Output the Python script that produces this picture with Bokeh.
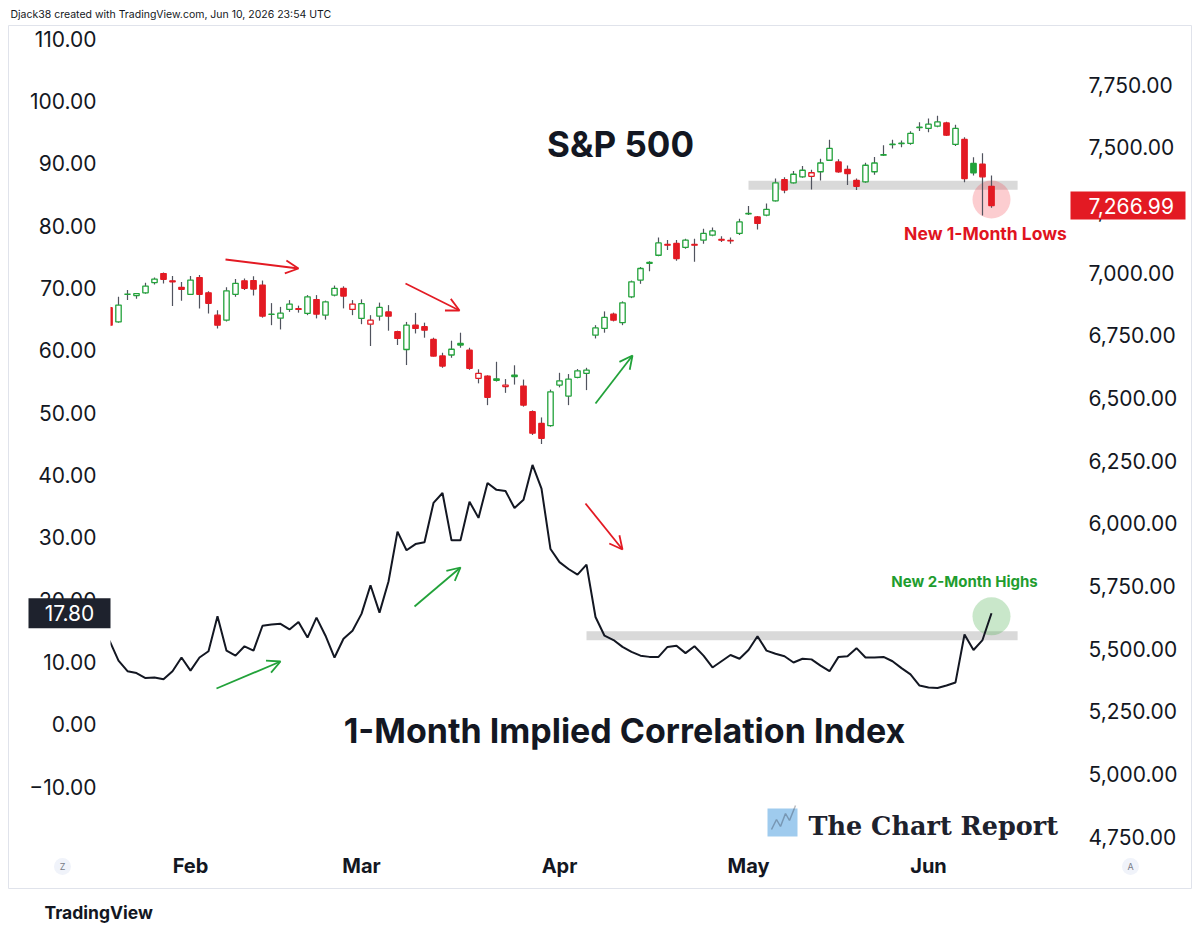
from bokeh.plotting import figure
from bokeh.models import (Range1d, LinearAxis, FixedTicker, Label, Arrow, OpenHead,
                          BoxAnnotation, PolyAnnotation, ColumnDataSource, Title)
from bokeh.embed import file_html
from bokeh.resources import INLINE

# ---------------- data ----------------
dates = (
    ["2026-01-%02d" % d for d in [20, 21, 22, 23, 26, 27, 28, 29, 30]]
    + ["2026-02-%02d" % d for d in [2, 3, 4, 5, 6, 9, 10, 11, 12, 13, 17, 18, 19, 20, 23, 24, 25, 26, 27]]
    + ["2026-03-%02d" % d for d in [2, 3, 4, 5, 6, 9, 10, 11, 12, 13, 16, 17, 18, 19, 20, 23, 24, 25, 26, 27, 30, 31]]
    + ["2026-04-%02d" % d for d in [1, 2, 6, 7, 8, 9, 10, 13, 14, 15, 16, 17, 20, 21, 22, 23, 24, 27, 28, 29, 30]]
    + ["2026-05-%02d" % d for d in [1, 4, 5, 6, 7, 8, 11, 12, 13, 14, 15, 18, 19, 20, 21, 22, 26, 27, 28, 29]]
    + ["2026-06-%02d" % d for d in [1, 2, 3, 4, 5, 8, 9, 10]]
)

spx_open = [6860, 6803, 6913, 6908, 6919, 6960, 6996, 6967, 6941, 6913,
            6980, 6919, 6830, 6810, 6913, 6967, 6968, 6950, 6833, 6818,
            6853, 6853, 6837, 6892, 6830, 6910, 6937, 6853, 6817, 6794,
            6826, 6843, 6764, 6693, 6790, 6784, 6733, 6667, 6671, 6717,
            6690, 6578, 6587, 6576, 6545, 6591, 6547, 6445, 6398, 6389,
            6551, 6507, 6582, 6598, 6750, 6777, 6834, 6800, 6903, 6970,
            7037, 7069, 7112, 7116, 7100, 7112, 7129, 7149, 7132, 7128,
            7156, 7234, 7222, 7229, 7286, 7371, 7358, 7382, 7384, 7402,
            7448, 7441, 7411, 7368, 7362, 7402, 7470, 7510, 7514, 7515,
            7578, 7575, 7584, 7597, 7511, 7531, 7435, 7432, 7344]
spx_high = [6875, 6903, 6930, 6918, 6959, 6980, 7000, 6986, 6962, 6986,
            6990, 6925, 6850, 6941, 6974, 6976, 6985, 6968, 6878, 6863,
            6890, 6868, 6910, 6910, 6888, 6948, 6945, 6890, 6893, 6830,
            6880, 6870, 6768, 6803, 6839, 6800, 6740, 6680, 6728, 6760,
            6700, 6614, 6590, 6644, 6575, 6630, 6573, 6450, 6422, 6533,
            6600, 6595, 6615, 6620, 6790, 6845, 6840, 6885, 6968, 7022,
            7045, 7140, 7130, 7130, 7135, 7135, 7175, 7180, 7145, 7140,
            7215, 7265, 7226, 7275, 7375, 7380, 7405, 7425, 7410, 7454,
            7530, 7452, 7427, 7375, 7438, 7461, 7508, 7530, 7527, 7564,
            7600, 7614, 7625, 7602, 7590, 7540, 7460, 7476, 7387]
spx_low = [6780, 6800, 6890, 6895, 6915, 6952, 6956, 6866, 6887, 6910,
           6857, 6837, 6777, 6805, 6903, 6930, 6908, 6820, 6790, 6773,
           6843, 6840, 6830, 6817, 6812, 6905, 6857, 6830, 6794, 6707,
           6808, 6768, 6711, 6631, 6757, 6740, 6665, 6620, 6660, 6700,
           6612, 6558, 6471, 6565, 6520, 6553, 6465, 6352, 6316, 6385,
           6542, 6471, 6578, 6531, 6737, 6760, 6805, 6790, 6898, 6955,
           7005, 7065, 7090, 7047, 7095, 7043, 7115, 7145, 7122, 7115,
           7150, 7230, 7172, 7225, 7283, 7316, 7355, 7378, 7331, 7367,
           7445, 7398, 7349, 7329, 7358, 7390, 7465, 7495, 7500, 7510,
           7565, 7560, 7580, 7545, 7505, 7360, 7387, 7228, 7258]
spx_close = [6790, 6870, 6914, 6916, 6946, 6974, 6973, 6963, 6933, 6970,
             6913, 6877, 6790, 6927, 6957, 6937, 6934, 6826, 6834, 6838,
             6874, 6856, 6903, 6834, 6883, 6937, 6906, 6874, 6876, 6810,
             6861, 6826, 6737, 6790, 6777, 6770, 6667, 6627, 6694, 6711,
             6618, 6598, 6502, 6570, 6551, 6585, 6471, 6359, 6339, 6524,
             6568, 6575, 6608, 6611, 6779, 6821, 6810, 6879, 6963, 7016,
             7040, 7118, 7109, 7056, 7129, 7109, 7156, 7166, 7129, 7126,
             7202, 7236, 7196, 7252, 7358, 7329, 7392, 7408, 7398, 7437,
             7495, 7402, 7395, 7344, 7428, 7437, 7468, 7512, 7516, 7555,
             7580, 7592, 7601, 7548, 7575, 7375, 7398, 7382, 7266.99]

corr = [13.4, 10.2, 8.5, 8.2, 7.4, 7.5, 7.2, 8.5, 10.7, 8.6,
        10.7, 11.7, 17.3, 11.8, 11.0, 12.5, 11.8, 15.8, 16.0, 16.1,
        15.2, 16.4, 13.9, 17.1, 14.2, 10.7, 13.7, 15.0, 17.7, 22.3,
        17.9, 22.9, 30.9, 27.9, 28.9, 29.2, 35.5, 37.1, 29.5, 29.5,
        35.7, 33.1, 38.7, 37.6, 37.4, 34.7, 36.0, 41.6, 37.8, 28.1,
        26.0, 24.9, 24.0, 25.6, 17.2, 14.2, 13.5, 12.4, 11.6, 11.0,
        10.8, 10.8, 12.4, 12.6, 11.4, 12.5, 11.0, 9.1, 10.1, 11.1,
        10.5, 11.9, 14.1, 11.8, 11.3, 10.9, 9.9, 10.5, 10.4, 9.4,
        8.5, 10.8, 10.9, 12.2, 10.7, 10.7, 10.8, 10.1, 9.0, 8.0,
        6.2, 5.9, 5.8, 6.2, 6.7, 14.4, 11.9, 13.5, 17.8]

left_ticks = [-10, 0, 10, 20, 30, 40, 50, 60, 70, 80, 90, 100, 110]
right_ticks = [4750, 5000, 5250, 5500, 5750, 6000, 6250, 6500, 6750, 7000, 7250, 7500, 7750]
month_names = {"01": "Jan", "02": "Feb", "03": "Mar", "04": "Apr", "05": "May", "06": "Jun"}

spx_support = 7348      # grey horizontal level drawn on the S&P
corr_resistance = 14.2  # grey horizontal level drawn on the correlation index

# ---------------- layout (canvas pixels) ----------------
W, H = 1200, 942
FR_L, FR_R, FR_T, FR_B = 8, 1191, 25, 888       # bordered chart pane
PANE_L, PANE_R = 110, 1070                       # price-scale edges inside the pane
BAR0_X, BAR_DX = 109.0, 9.0
L_ZERO_Y, L_PX = 723.7, 6.233
R_REF_Y, R_REF_V, R_PX = 146.7, 7500.0, 0.25067


def ix(px):
    return (px - BAR0_X) / BAR_DX


def lv(py):
    return (L_ZERO_Y - py) / L_PX


def rv(py):
    return R_REF_V - (py - R_REF_Y) / R_PX


GREEN = "#22a23a"
RED = "#e31a23"
WICK = "#50535e"
INK = "#131722"
FONT = "Inter"

p = figure(width=W, height=H,
           x_range=Range1d(ix(FR_L), ix(FR_R)),
           y_range=Range1d(lv(FR_B), lv(FR_T)),
           output_backend="svg", toolbar_location=None,
           min_border_left=FR_L, min_border_right=W - FR_R,
           min_border_top=FR_T, min_border_bottom=H - FR_B)
p.extra_y_ranges = {"spx": Range1d(rv(FR_B), rv(FR_T))}
p.xgrid.visible = False
p.ygrid.visible = False
p.outline_line_color = "#e0e3eb"
p.outline_line_width = 1
p.background_fill_color = "white"
p.border_fill_color = "white"

# top caption
p.title.text = "Djack38 created with TradingView.com, Jun 10, 2026 23:54 UTC"
p.title.text_font = FONT
p.title.text_font_size = "10.5px"
p.title.text_font_style = "normal"
p.title.text_color = INK
p.title.align = "left"
p.title.offset = 2
p.title.standoff = 9

# axes (labels drawn inside the pane like TradingView's price scales)
la = p.yaxis[0]
la.ticker = FixedTicker(ticks=left_ticks)
la.major_label_overrides = {t: ("%.2f" % t).replace("-", "\u2212") for t in left_ticks}
la.major_label_standoff = FR_L - 96

ra = LinearAxis(y_range_name="spx", ticker=FixedTicker(ticks=right_ticks))
ra.major_label_overrides = {t: "{:,.2f}".format(t) for t in right_ticks}
ra.major_label_standoff = 1088 - FR_R
p.add_layout(ra, "right")

month_idx = []
month_lab = {}
for i, d in enumerate(dates):
    m = d[5:7]
    if i > 0 and m != dates[i - 1][5:7]:
        month_idx.append(i)
        month_lab[i] = month_names[m]
xa = p.xaxis[0]
xa.ticker = FixedTicker(ticks=month_idx)
xa.major_label_overrides = month_lab
xa.major_label_standoff = 853 - FR_B
xa.major_label_text_font_style = "bold"
xa.major_label_text_font_size = "20px"

for ax in [la, ra, xa]:
    ax.axis_line_color = None
    ax.major_tick_line_color = None
    ax.minor_tick_line_color = None
    ax.major_tick_in = 0
    ax.major_tick_out = 0
    ax.minor_tick_in = 0
    ax.minor_tick_out = 0
    ax.major_label_text_font = FONT
    ax.major_label_text_color = INK
for ax in [la, ra]:
    ax.major_label_text_font_size = "21px"

p.add_layout(Title(text="TradingView", text_font=FONT, text_font_size="17.5px",
                   text_font_style="bold", text_color=INK, align="left",
                   offset=36, standoff=23), "below")

# ---------------- marks ----------------
n = len(dates)
xs = list(range(n))
line_cols, fill_cols, tops, bots = [], [], [], []
for i in range(n):
    o, c = spx_open[i], spx_close[i]
    prev = spx_close[i - 1] if i > 0 else o
    col = GREEN if c >= prev else RED
    line_cols.append(col)
    fill_cols.append("white" if c > o else col)
    tops.append(max(o, c))
    bots.append(min(o, c))
src = ColumnDataSource(dict(x=xs, high=spx_high, low=spx_low, top=tops, bottom=bots,
                            lc=line_cols, fc=fill_cols, corr=corr, date=dates))

last = n - 1
# grey levels
p.segment(x0=[month_idx[3]], x1=[last + 2.9], y0=[spx_support], y1=[spx_support],
          y_range_name="spx", line_color="#d9d9d9", line_width=9, line_cap="butt")
p.segment(x0=[53], x1=[last + 2.9], y0=[corr_resistance], y1=[corr_resistance],
          line_color="#d9d9d9", line_width=9, line_cap="butt")
# highlight circles
p.scatter(x=[last], y=[rv(199)], y_range_name="spx", size=38, marker="circle",
          fill_color="#f23645", fill_alpha=0.25, line_color=None)
p.scatter(x=[last], y=[corr[-1] - 0.5], size=38, marker="circle",
          fill_color="#4caf50", fill_alpha=0.3, line_color=None)

# candles
p.segment(x0="x", x1="x", y0="high", y1="low", source=src, y_range_name="spx",
          line_color=WICK, line_width=1.2)
p.vbar(x="x", width=0.6, top="top", bottom="bottom", source=src, y_range_name="spx",
       fill_color="fc", line_color="lc", line_width=1.3)

# correlation line
p.line(x="x", y="corr", source=src, line_color=INK, line_width=2)

# price-scale area masks the series (series are clipped at the scale edge)
p.add_layout(BoxAnnotation(left=ix(FR_L + 1), right=ix(PANE_L), top=lv(FR_T + 1),
                           bottom=lv(FR_B - 1), fill_color="white", fill_alpha=1,
                           line_color=None, level="glyph"))

# scale corner badges (drawn above the mask)
p.scatter(x=[ix(62), ix(1130)], y=[lv(866), lv(866)], size=17, marker="circle",
          fill_color="#f0f3fa", line_color=None, level="guide")

# ---------------- annotations ----------------
arrows = [  # (x0px, y0px, x1px, y1px, colour)
    (225, 259, 298, 268, RED),
    (405, 283, 459, 310, RED),
    (595, 403, 632, 355, GREEN),
    (585, 503, 622, 549, RED),
    (216, 688, 280, 661, GREEN),
    (414, 606, 460, 567, GREEN),
]
for x0, y0, x1, y1, c in arrows:
    p.add_layout(Arrow(x_start=ix(x0), y_start=lv(y0), x_end=ix(x1), y_end=lv(y1),
                       line_color=c, line_width=1.8,
                       end=OpenHead(size=13, line_color=c, line_width=1.8)))


def lab(text, x, y, size, color=INK, style="bold", align="center", font=FONT, **kw):
    p.add_layout(Label(x=ix(x), y=lv(y), text=text, text_font=font, text_font_size=size,
                       text_font_style=style, text_color=color, text_align=align,
                       text_baseline="middle", **kw))


lab("S&P 500", 620, 143, "35px")
lab("1-Month Implied Correlation Index", 624, 730, "34px")
lab("New 1-Month Lows", 985, 233, "17.5px", color="#e0141e")
lab("New 2-Month Highs", 964, 581, "15px", color="#1f9d2f")
lab("The Chart Report", 808, 825, "25.5px", font="DejaVu Serif", color="#1e222d", align="left")
lab("Z", 62, 866, "9px", color="#787b86", style="normal")
lab("A", 1130, 866, "9px", color="#787b86", style="normal")

# logo icon
p.add_layout(BoxAnnotation(left=ix(767), right=ix(797), top=lv(808), bottom=lv(836),
                           fill_color="#9fcbee", fill_alpha=1, line_color=None))
zig = [(771, 829), (776, 819), (780, 826), (785, 813), (789, 820), (795, 805)]
zx = [ix(a) for a, b in zig] + [ix(a) for a, b in zig[::-1]]
zy = [lv(b) for a, b in zig] + [lv(b) for a, b in zig[::-1]]
p.add_layout(PolyAnnotation(xs=zx, ys=zy, fill_alpha=0, line_color="#1e222d", line_width=1.5))

# last value boxes on the price scales
corr_half = 15 / L_PX
p.add_layout(BoxAnnotation(left=ix(28), right=ix(PANE_L), top=corr[-1] + corr_half,
                           bottom=corr[-1] - corr_half, fill_color="#1e222d",
                           fill_alpha=1, line_color=None))
p.add_layout(Label(x=ix(69), y=corr[-1], text="%.2f" % corr[-1], text_font=FONT,
                   text_font_size="21px", text_color="white", text_align="center",
                   text_baseline="middle"))
spx_half = 14 / R_PX
p.add_layout(BoxAnnotation(left=ix(PANE_R), right=ix(1185), top=spx_close[-1] + spx_half,
                           bottom=spx_close[-1] - spx_half, y_range_name="spx",
                           fill_color="#e31a23", fill_alpha=1, line_color=None))
p.add_layout(Label(x=ix(1088), y=spx_close[-1], y_range_name="spx",
                   text="{:,.2f}".format(spx_close[-1]), text_font=FONT,
                   text_font_size="21px", text_color="white", text_align="left",
                   text_baseline="middle"))

open("out.html", "w").write(file_html(p, INLINE))
